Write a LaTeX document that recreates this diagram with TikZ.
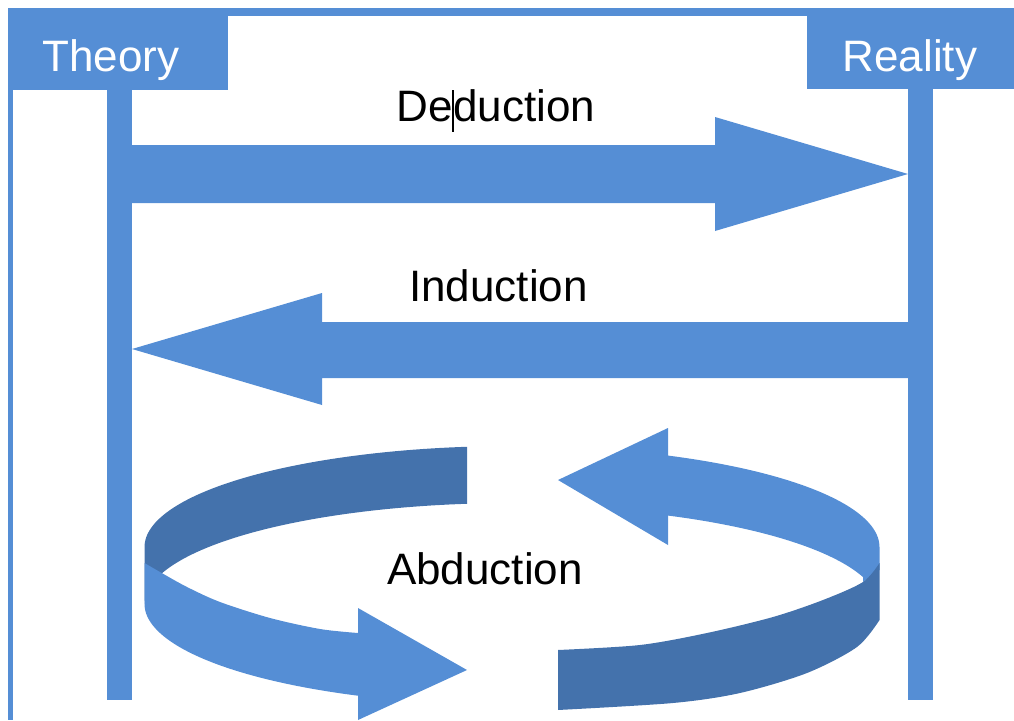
\documentclass[tikz,border=0pt]{standalone}
\usepackage{fontspec}
\setmainfont{Liberation Sans}
\definecolor{lblue}{RGB}{85,142,213}
\definecolor{dblue}{RGB}{68,114,172}
\tikzset{
  headtext/.style={anchor=base, inner sep=0pt, text=white, font=\fontsize{44}{50}\selectfont},
  labeltext/.style={anchor=base, inner sep=0pt, text=black, font=\fontsize{44}{50}\selectfont},
  lightfill/.style={fill=lblue},
  darkfill/.style={fill=dblue}
}
% ellipse of the ring: centre (512,547), half axes 367.5 and 101, band height 57
\newcommand{\ringx}[1]{512+367.5*cos(#1)}
\newcommand{\ringy}[1]{547-101*sin(#1)}
\begin{document}
\begin{tikzpicture}[x=1pt,y=-1pt]
\useasboundingbox (0,0) rectangle (1014,720);
% frame and header boxes
\fill[lightfill] (8,8) rectangle (1014,16);
\fill[lightfill] (8,8) rectangle (13,720);
\fill[lightfill] (8,8) rectangle (228,90);
\fill[lightfill] (807,8) rectangle (1014,89);
% vertical bars
\fill[lightfill] (107,89) rectangle (132,700);
\fill[lightfill] (908,89) rectangle (933,700);
% deduction arrow
\fill[lightfill] (132,145) -- (715,145) -- (715,117) -- (908,174) -- (715,231) -- (715,203) -- (132,203) -- cycle;
% induction arrow
\fill[lightfill] (908,322) -- (322,322) -- (322,293) -- (132,349) -- (322,405) -- (322,378) -- (908,378) -- cycle;
% abduction: left piece, back (dark)
\fill[darkfill] plot[domain=97.03:180, samples=60, variable=\t] ({\ringx{\t}},{\ringy{\t}})
  -- plot[domain=180:97.03, samples=60, variable=\t] ({\ringx{\t}},{\ringy{\t}+57}) -- cycle;
% abduction: left piece, front (light) with head
\fill[lightfill] (144.5,563) -- plot[smooth] coordinates {(144.5,563) (160,572) (187,587) (220,602) (270,618) (320,629) (358,633)} -- (358,608) -- (467,670) -- (358,720) -- (358,695)
  -- plot[domain=245.2:180, samples=50, variable=\t] ({\ringx{\t}},{\ringy{\t}+57}) -- cycle;
% abduction: right piece, back (light) with head
\fill[lightfill] (558,480) -- (668,428) -- (668,457)
  -- plot[domain=64.88:0, samples=50, variable=\t] ({\ringx{\t}},{\ringy{\t}})
  -- (879.5,570) -- (863,582)
  -- plot[domain=17.2:64.88, samples=40, variable=\t] ({\ringx{\t}},{\ringy{\t}+60})
  -- (668,517) -- (668,545) -- cycle;
% abduction: right piece, front (dark)
\fill[darkfill] (558,650) -- plot[smooth] coordinates {(558,650) (640,645) (707,633) (773,617) (823,600) (863,582) (879.5,563)} -- (879.5,620) -- plot[smooth] coordinates {(879.5,620) (857,647) (807,673) (740,693) (673,703) (558,710)} -- cycle;
% texts
\node[headtext] (theory) at (111,71) {Theory};
\node[headtext] (reality) at (910,71) {Reality};
\node[labeltext] (deduction) at (496,121) {Deduction};
\node[labeltext] (induction) at (498.5,301) {Induction};
\node[labeltext] (abduction) at (485,584) {Abduction};
% text cursor
\coordinate (cursortop) at (453,90);
\coordinate (cursorbot) at (453,132);
\draw[line width=1.4pt] (cursortop) -- (cursorbot);
\end{tikzpicture}
\end{document}
